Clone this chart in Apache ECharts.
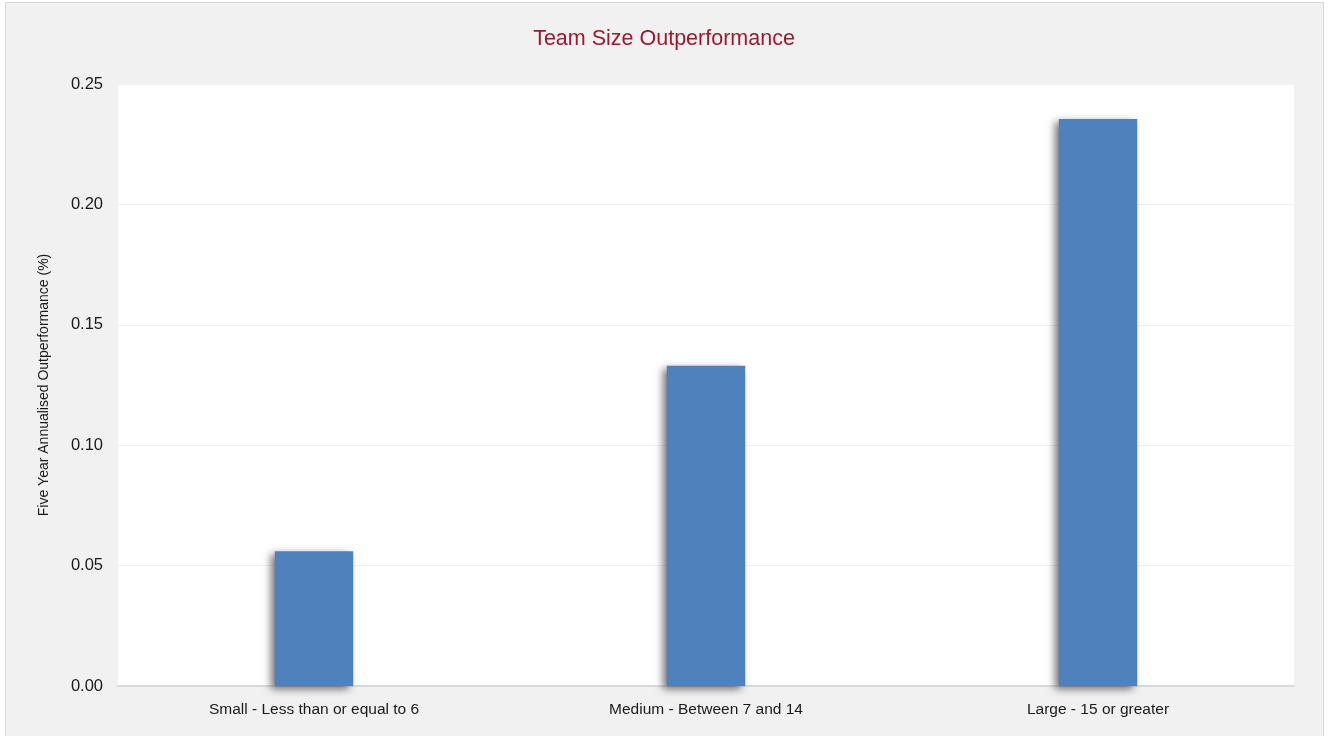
<!DOCTYPE html>
<html>
<head>
<meta charset="utf-8">
<script src="https://cdn.jsdelivr.net/npm/echarts@6/dist/echarts.min.js"></script>
<style>
html,body{margin:0;padding:0;background:#fff;width:1328px;height:736px;overflow:hidden;}
#frame{position:absolute;left:5px;top:2px;width:1317px;height:760px;border:1px solid #d9d9d9;background:#f1f1f1;}
#chart{position:absolute;left:0;top:0;width:1328px;height:736px;}
</style>
</head>
<body>
<div id="frame"></div>
<div id="chart"></div>
<script>
const categories = ['Small - Less than or equal to 6', 'Medium - Between 7 and 14', 'Large - 15 or greater'];
const values = [0.056, 0.133, 0.2355];
const chartTitle = 'Team Size Outperformance';
const yAxisName = 'Five Year Annualised Outperformance (%)';

const font = '"Liberation Sans", Arial, sans-serif';
const chart = echarts.init(document.getElementById('chart'), null, {renderer: 'canvas'});
chart.setOption({
  backgroundColor: 'transparent',
  animation: false,
  title: {
    text: chartTitle,
    left: 'center',
    top: 23,
    textStyle: {color: '#9b1a2e', fontSize: 21.5, fontWeight: 'normal', fontFamily: font}
  },
  grid: {left: 118, right: 34, top: 84, bottom: 50, show: true, backgroundColor: '#ffffff', borderWidth: 0},
  xAxis: {
    type: 'category',
    data: categories,
    axisLine: {show: true, lineStyle: {color: '#d9d9d9', width: 2}},
    axisTick: {show: false},
    axisLabel: {color: '#1a1a1a', fontSize: 15.5, fontFamily: font, margin: 16}
  },
  yAxis: {
    type: 'value',
    min: 0, max: 0.25, interval: 0.05,
    name: yAxisName,
    nameLocation: 'middle',
    nameGap: 67,
    nameTextStyle: {color: '#1a1a1a', fontSize: 14, fontFamily: font},
    axisLine: {show: false},
    axisTick: {show: false},
    splitLine: {lineStyle: {color: '#f0f0f0', width: 1}},
    axisLabel: {color: '#1a1a1a', fontSize: 16.5, fontFamily: font, margin: 15,
      formatter: v => v.toFixed(2)}
  },
  series: [{
    type: 'bar',
    data: values,
    barWidth: '20%',
    itemStyle: {
      color: '#4f81bd',
      shadowColor: 'rgba(0,0,0,0.55)', shadowBlur: 8, shadowOffsetX: -4, shadowOffsetY: 3
    }
  }]
});
</script>
</body>
</html>
